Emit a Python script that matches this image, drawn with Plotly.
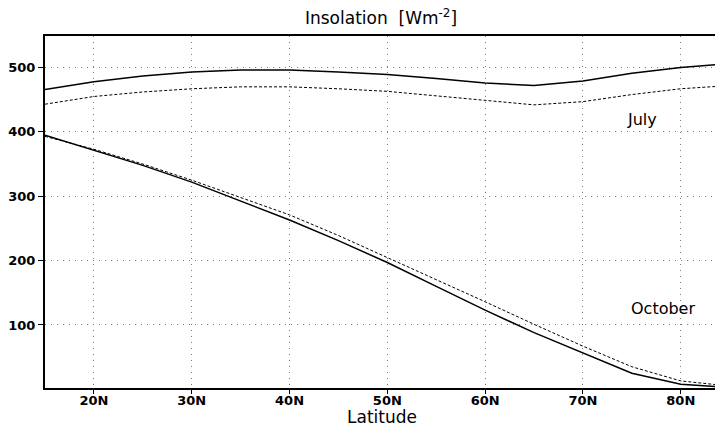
import plotly.graph_objects as go

latitude = [15, 20, 25, 30, 35, 40, 45, 50, 55, 60, 65, 70, 75, 80, 85]
july_solid = [466, 478, 487, 493, 496, 496, 493, 489, 483, 476, 472, 479, 491, 500, 506]
july_dashed = [443, 455, 462, 467, 470, 470, 467, 463, 456, 449, 442, 447, 458, 467, 472]
oct_solid = [395, 372, 348, 322, 293, 263, 231, 197, 160, 123, 88, 56, 25, 8, 3]
oct_dashed = [393, 373, 350, 325, 298, 271, 239, 205, 170, 136, 101, 67, 35, 13, 5]

x_ticks = [20, 30, 40, 50, 60, 70, 80]
x_labels = ["20N", "30N", "40N", "50N", "60N", "70N", "80N"]
y_ticks = [100, 200, 300, 400, 500]

fig = go.Figure()
solid = dict(color="black", width=1.5)
dashed = dict(color="black", width=1, dash="3px,2px")
fig.add_trace(go.Scatter(x=latitude, y=july_solid, mode="lines", line=solid, name="July"))
fig.add_trace(go.Scatter(x=latitude, y=july_dashed, mode="lines", line=dashed, name="July (alt)"))
fig.add_trace(go.Scatter(x=latitude, y=oct_solid, mode="lines", line=solid, name="October"))
fig.add_trace(go.Scatter(x=latitude, y=oct_dashed, mode="lines", line=dashed, name="October (alt)"))

label_font = dict(family="DejaVu Sans", size=16, color="black")
fig.add_annotation(x=76.0, y=420, text="July", showarrow=False, font=label_font)
fig.add_annotation(x=78.2, y=125, text="October", showarrow=False, font=label_font)

grid = dict(showgrid=True, gridcolor="#7a7a7a", gridwidth=1, griddash="1px,5px")
tickfont = dict(family="DejaVu Sans", size=13, color="black", weight="bold")

fig.update_layout(
    width=715, height=428,
    margin=dict(l=45, r=0, t=36, b=40),
    paper_bgcolor="white", plot_bgcolor="white",
    showlegend=False,
    title=dict(text="Insolation  [Wm<sup>-2</sup>]", x=381/715, xanchor="center",
               y=1 - 18/428, yanchor="middle",
               font=dict(family="DejaVu Sans", size=17, color="black")),
    xaxis=dict(range=[15, 83.5], tickvals=x_ticks, ticktext=x_labels,
               showline=True, linecolor="black", linewidth=2, mirror=True,
               ticks="outside", ticklen=4, tickcolor="black", tickwidth=1,
               ticklabelstandoff=-5,
               zeroline=False, tickfont=tickfont, **grid),
    yaxis=dict(range=[2, 549], tickvals=y_ticks,
               showline=True, linecolor="black", linewidth=2, mirror=False,
               ticks="outside", ticklen=5, tickcolor="black", tickwidth=1,
               zeroline=False, tickfont=tickfont, **grid),
)
fig.add_annotation(x=(382 - 45) / 670, y=(388 - 417) / 352, xref="paper", yref="paper",
                   text="Latitude", showarrow=False, xanchor="center", yanchor="middle",
                   font=dict(family="DejaVu Sans", size=17, color="black"))

fig.write_html("out.html")
